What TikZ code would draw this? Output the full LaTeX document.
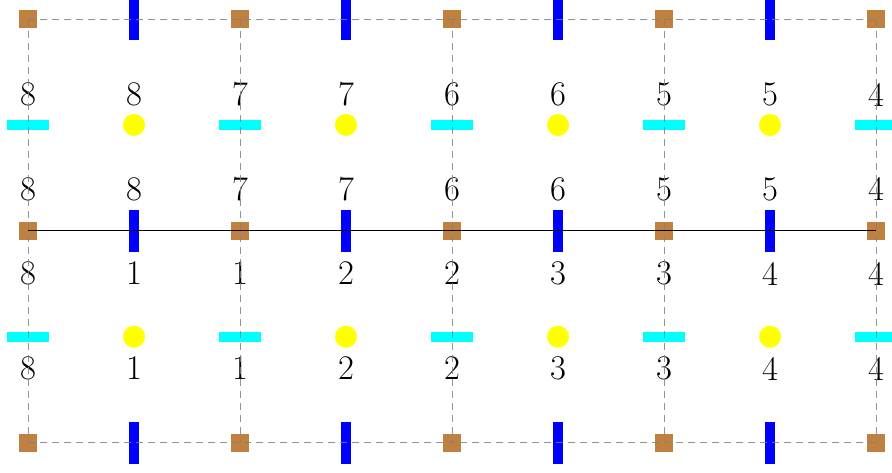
\documentclass[tikz,border=0pt]{standalone}
\definecolor{pcyan}{RGB}{0,255,255}
\definecolor{pyellow}{RGB}{255,255,0}
\definecolor{pblue}{RGB}{0,0,255}
\definecolor{pbrown}{RGB}{191,128,64}
\begin{document}
\begin{tikzpicture}[x=0.5pt,y=-0.5pt,
  sq/.style={fill=pbrown, minimum size=9pt, inner sep=0pt, draw=none},
  vbar/.style={fill=pblue, minimum width=5pt, minimum height=21pt, inner sep=0pt},
  hbar/.style={fill=pcyan, minimum width=21pt, minimum height=5pt, inner sep=0pt},
  dot/.style={circle, fill=pyellow, minimum size=11pt, inner sep=0pt},
  lab/.style={font=\LARGE, inner sep=0pt},
  gridline/.style={draw=gray, draw opacity=0.85, line width=0.45pt, dash pattern=on 3.5pt off 2.5pt},
  mainline/.style={draw=black, line width=0.6pt}]
\useasboundingbox (0,0) rectangle (892,472);
\clip (0,0) rectangle (892,472);
% shapes
\foreach \c in {0,2,4,6,8} \foreach \r in {0,2,4}
  \node[sq] (s-\c-\r) at ({28+106*\c},{19+105.9*\r}) {};
\foreach \c in {1,3,5,7} \foreach \r in {0,2,4}
  \node[vbar] (v-\c-\r) at ({28+106*\c},{19+105.9*\r}) {};
\foreach \c in {0,2,4,6,8} \foreach \r in {1,3}
  \node[hbar] (h-\c-\r) at ({28+106*\c},{19+105.9*\r}) {};
\foreach \c in {1,3,5,7} \foreach \r in {1,3}
  \node[dot] (d-\c-\r) at ({28+106*\c},{19+105.9*\r}) {};
% labels
\foreach \t [count=\i from 0] in {8,8,7,7,6,6,5,5,4} {
  \node[lab] (a-\i) at ({28+106*\i},94.5) {\t};
  \node[lab] (b-\i) at ({28+106*\i},189) {\t};
}
\foreach \t [count=\i from 0] in {8,1,1,2,2,3,3,4,4} {
  \node[lab] (c-\i) at ({28+106*\i},273.5) {\t};
  \node[lab] (e-\i) at ({28+106*\i},368.5) {\t};
}
% dashed grid
\foreach \r in {0,2,4}
  \draw[gridline] (s-0-\r.center) -- (s-8-\r.center);
\foreach \c in {0,2,4,6,8}
  \draw[gridline] (s-\c-0.center) -- (s-\c-4.center);
% solid line
\draw[mainline] (s-0-2.center) -- (s-8-2.center);
\end{tikzpicture}
\end{document}
